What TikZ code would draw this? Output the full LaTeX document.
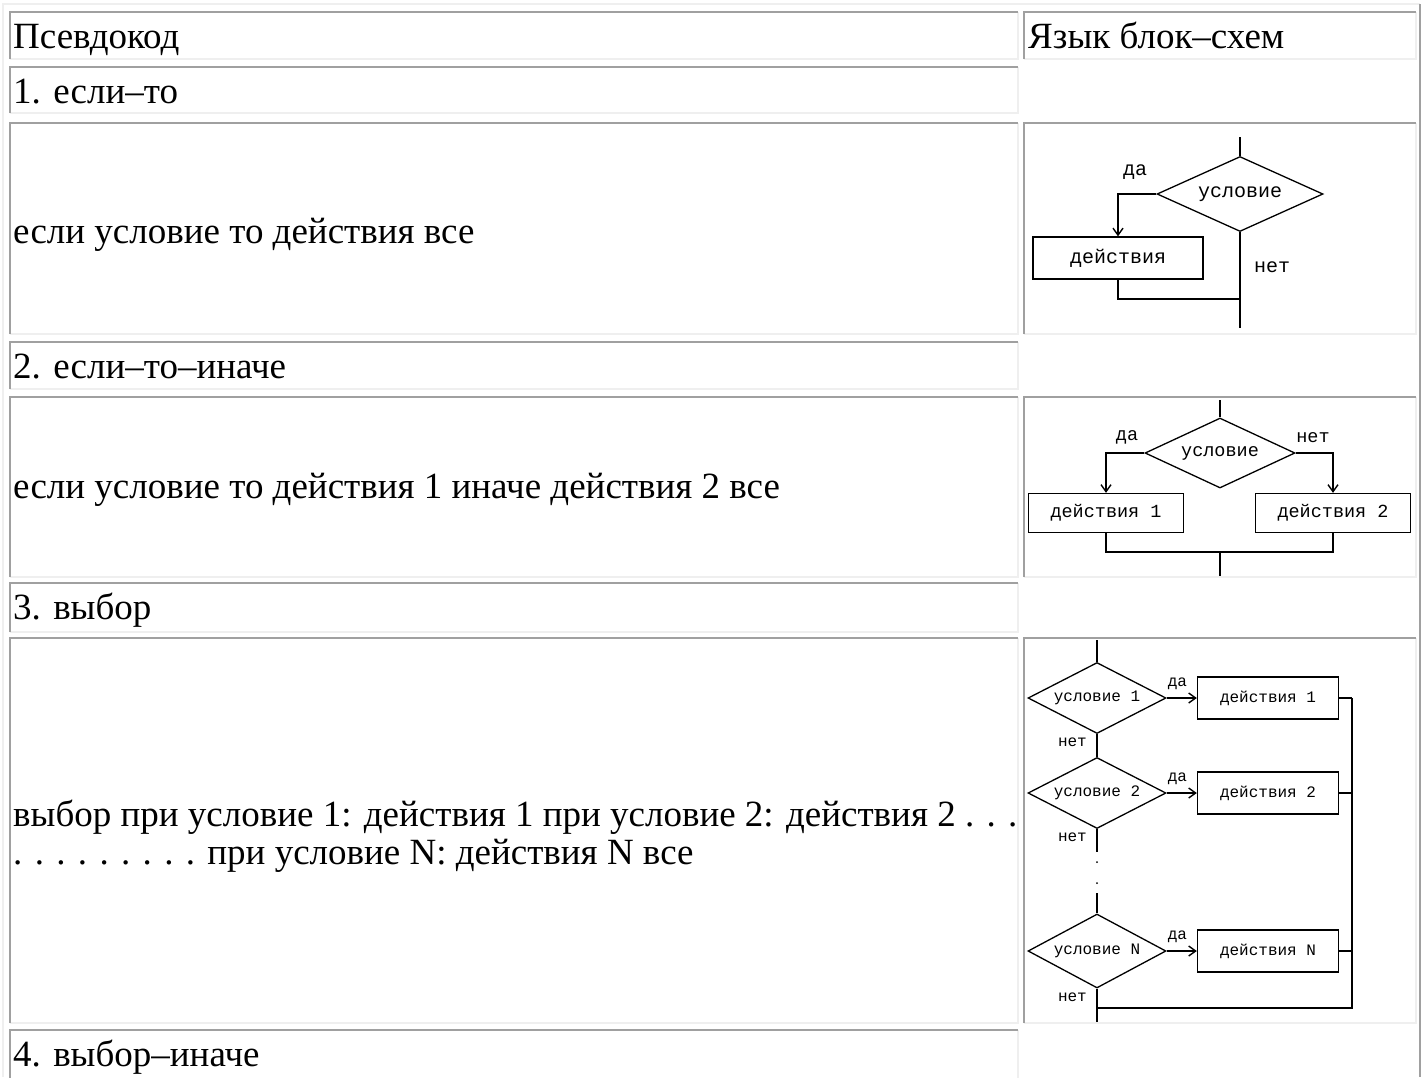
\documentclass[tikz,border=0pt]{standalone}
\usepackage{fontspec}
\setmainfont{Liberation Serif}
\newfontfamily\chartfont{Liberation Mono}
\usetikzlibrary{positioning,shapes.geometric,arrows.meta}

\definecolor{bordshade}{HTML}{A0A0A0}
\definecolor{bordlight}{HTML}{EFEFEF}

\tikzset{
  celltext/.style={anchor=base west, inner sep=0pt, font=\fontsize{37}{42}\selectfont},
  cellshade/.style={draw=bordshade, line width=2pt},
  celllight/.style={draw=bordlight, line width=2pt},
  flow/.style={line width=1.6pt},
  flowarrow/.style={line width=1.6pt, -{Straight Barb[length=7pt,width=10pt,line width=1.4pt]}},
  cond/.style={diamond, draw, line width=1.3pt, inner sep=0pt},
  act/.style={rectangle, draw, line width=1.3pt, inner sep=0pt},
  lbl/.style={inner sep=0pt},
}

\begin{document}
\begin{tikzpicture}[x=1pt, y=-1pt]
\useasboundingbox[fill=white] (0,0) rectangle (1427,1077);
% Table frame
\draw[celllight] (3,1077) -- (3,4) -- (1420,4);
\draw[cellshade] (1420,4) -- (1420,1077);
% Cells
\foreach \xa/\ya/\xb/\yb in {10/12/1018/59, 1024/12/1416/59, 10/67/1018/113,
    10/123/1018/334, 1024/123/1416/334, 10/342/1018/389, 10/397/1018/577,
    1024/397/1416/577, 10/583/1018/632, 10/638/1018/1023, 1024/638/1416/1023,
    10/1030/1018/1090}
{
  \draw[celllight] (\xa,\yb) -- (\xb,\yb) -- (\xb,\ya);
  \draw[cellshade] (\xa,\yb) -- (\xa,\ya) -- (\xb,\ya);
}
% Texts
\node[celltext] (head1) at (13,48) {Псевдокод};
\node[celltext] (head2) at (1028,48) {Язык блок–схем};
\node[celltext] (title1) at (13,103) {1. если–то};
\node[celltext] (code1) at (13,243) {если условие то действия все};
\node[celltext] (title2) at (13,378) {2. если–то–иначе};
\node[celltext] (code2) at (13,498) {если условие то действия 1 иначе действия 2 все};
\node[celltext] (title3) at (13,619) {3. выбор};
\node[celltext] (code3) at (13,826) {выбор при условие 1: действия 1 при условие 2: действия 2 . . .};
\node[celltext] (code3b) at (13,864) {. . . . . . . . . при условие N: действия N все};
\node[celltext] (title4) at (13,1066) {4. выбор–иначе};

% Chart 1: if-then
\begin{scope}[every node/.append style={font=\chartfont\fontsize{20}{22}\selectfont}]
\node[cond, aspect=2.2, minimum width=166, minimum height=75] (c1) at (1240,194) {условие};
\node[act, minimum width=170, minimum height=42] (a1) at (1118,258) {действия};
\coordinate (s1) at (1240,137);
\coordinate (j1) at (1240,299);
\coordinate (e1) at (1240,328);
\draw[flow, line width=2.4pt] (s1) -- (c1.north);
\draw[flowarrow] (c1.west) -| (a1.north);
\draw[flow] (c1.south) -- (e1);
\draw[flow] (a1.south) |- (j1);
\node[lbl] (yes1) at (1135,172) {да};
\node[lbl] (no1) at (1272,267) {нет};
\end{scope}

% Chart 2: if-then-else
\begin{scope}[every node/.append style={font=\chartfont\fontsize{18.5}{20}\selectfont}]
\node[cond, aspect=2.14, minimum width=150, minimum height=70] (c2) at (1220,453) {условие};
\node[act, minimum width=155, minimum height=39] (a21) at (1106,513) {действия 1};
\node[act, minimum width=155, minimum height=39] (a22) at (1333,513) {действия 2};
\coordinate (s2) at (1220,400);
\coordinate (j2) at (1220,552);
\coordinate (e2) at (1220,576);
\draw[flow] (s2) -- (c2.north);
\draw[flowarrow] (c2.west) -| (a21.north);
\draw[flowarrow] (c2.east) -| (a22.north);
\draw[flow] (a21.south) |- (j2) -| (a22.south);
\draw[flow, line width=2.4pt] (j2) -- (e2);
\node[lbl] (yes2) at (1127,437) {да};
\node[lbl] (no2) at (1313,438) {нет};
\end{scope}

% Chart 3: choice
\begin{scope}[every node/.append style={font=\chartfont\fontsize{16}{18}\selectfont}]
\node[cond, aspect=1.94, minimum width=138, minimum height=71] (d1) at (1097,698) {условие 1};
\node[cond, aspect=1.94, minimum width=138, minimum height=71] (d2) at (1097,793) {условие 2};
\node[cond, aspect=1.86, minimum width=138, minimum height=74] (dN) at (1097,951) {условие N};
\node[act, minimum width=141, minimum height=42] (b1) at (1268,698) {действия 1};
\node[act, minimum width=141, minimum height=42] (b2) at (1268,793) {действия 2};
\node[act, minimum width=141, minimum height=42] (bN) at (1268,951) {действия N};
\coordinate (s3) at (1097,640);
\coordinate (g1) at (1097,852);
\coordinate (g2) at (1097,893);
\coordinate (r3) at (1352,1008);
\coordinate (e3) at (1097,1022);
\draw[flow] (s3) -- (d1.north);
\draw[flow] (d1.south) -- (d2.north);
\draw[flow] (d2.south) -- (g1);
\draw[flow] (g2) -- (dN.north);
\draw[flow] (dN.south) -- (e3);
\fill (1097,862) circle (1pt) (1097,883) circle (1pt);
\foreach \n in {1,2,N} {
  \draw[flowarrow] (d\n.east) -- (b\n.west);
  \draw[flow] (b\n.east) -- (b\n.east -| r3);
  \node[lbl, above right=8pt and 1pt of d\n.east] (yes\n) {да};
  \node[lbl, below left=4pt and 10pt of d\n.south] (no\n) {нет};
}
\draw[flow] (b1.east -| r3) -- (r3) -- (r3 -| e3);
\end{scope}
\end{tikzpicture}
\end{document}
